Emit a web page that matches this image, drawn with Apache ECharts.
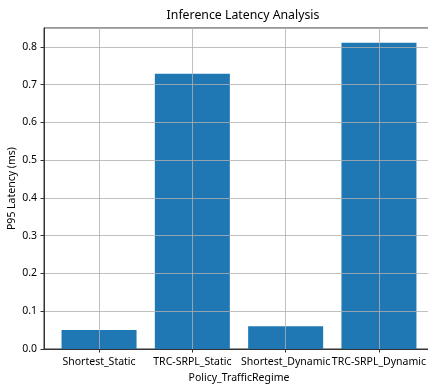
<!DOCTYPE html>
<html>
<head>
<meta charset="utf-8">
<script src="https://cdn.jsdelivr.net/npm/echarts@6/dist/echarts.min.js"></script>
<style>html,body{margin:0;padding:0;background:#fff;}#c{width:428px;height:386px;}</style>
</head>
<body>
<div id="c"></div>
<script>
const categories = ['Shortest_Static', 'TRC-SRPL_Static', 'Shortest_Dynamic', 'TRC-SRPL_Dynamic'];
const p95Latency = [0.050, 0.729, 0.060, 0.811];
const categoryPositions = [0, 1, 2, 3];

const FONT = '"Noto Sans", "DejaVu Sans", sans-serif';
const chart = echarts.init(document.getElementById('c'), null, {renderer: 'canvas'});
chart.setOption({
  animation: false,
  backgroundColor: '#ffffff',
  title: {
    text: 'Inference Latency Analysis',
    left: 238, top: 4, textAlign: 'center',
    textStyle: {fontFamily: FONT, fontSize: 12.3, fontWeight: 'normal', color: '#000'}
  },
  grid: {left: 44, top: 28, right: -6, bottom: 37, show: true, borderColor: '#333', borderWidth: 1,
    containLabel: false, outerBoundsMode: 'none'},
  xAxis: {
    type: 'value', min: -0.59, max: 3.59, z: 5,
    name: 'Policy_TrafficRegime', nameLocation: 'middle', nameGap: 22,
    nameTextStyle: {fontFamily: FONT, fontSize: 10.5, color: '#000'},
    axisLine: {show: true, onZero: false, lineStyle: {color: '#333', width: 1}},
    axisTick: {show: true, length: 3.5, customValues: categoryPositions, lineStyle: {color: '#333'}},
    axisLabel: {customValues: categoryPositions, margin: 8, hideOverlap: false, showMinLabel: true, showMaxLabel: true,
      fontFamily: FONT, fontSize: 10.5, color: '#000',
      formatter: v => categories[Math.round(v)] || ''},
    splitLine: {show: true, lineStyle: {color: '#b0b0b0', width: 0.8}}
  },
  yAxis: {
    type: 'value', min: 0, max: 0.85, interval: 0.1, z: 5,
    name: 'P95 Latency (ms)', nameLocation: 'middle', nameGap: 26, nameMoveOverlap: false,
    nameTextStyle: {fontFamily: FONT, fontSize: 10.5, color: '#000'},
    axisLine: {show: true, onZero: false, lineStyle: {color: '#333', width: 1}},
    axisTick: {show: true, length: 3.5, lineStyle: {color: '#333'}},
    axisLabel: {margin: 7, showMaxLabel: false, fontFamily: FONT, fontSize: 10.5, color: '#000', formatter: v => v.toFixed(1)},
    splitLine: {show: true, lineStyle: {color: '#b0b0b0', width: 0.8}}
  },
  series: [{
    type: 'bar', barWidth: 75, z: 2,
    itemStyle: {color: '#1f77b4'},
    data: categoryPositions.map((p, i) => [p, p95Latency[i]])
  }]
});
</script>
</body>
</html>
